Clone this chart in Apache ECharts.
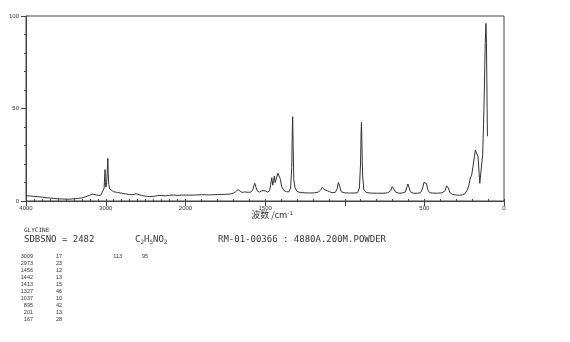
<!DOCTYPE html>
<html><head><meta charset="utf-8">
<script src="https://cdn.jsdelivr.net/npm/echarts@6/dist/echarts.min.js"></script>
<style>html,body{margin:0;padding:0;background:#fff}#c{width:570px;height:342px}</style>
</head><body><div id="c"></div>
<script>
// Spectrum (wavenumber cm-1, relative intensity)
const wavenumbers = [4000,3950,3900,3850,3800,3750,3700,3650,3600,3550,3500,3450,3400,3350,3300,3250,3200,3170,3150,3120,3090,3060,3035,3020,3014,3009,3005,2998,2990,2982,2976,2973,2969,2962,2950,2930,2900,2850,2800,2750,2700,2660,2620,2600,2550,2500,2450,2400,2350,2300,2250,2200,2150,2100,2050,2000,
1950,1900,1850,1800,1750,1720,1700,1685,1670,1660,1645,1630,1620,1605,1590,1578,1570,1565,1558,1548,1535,1520,1510,1500,1485,1472,1465,1458,1452,1447,1442,1437,1430,1420,1413,1405,1395,1380,1365,1350,1340,1333,1329,1327,1324,1320,1312,1300,1280,1250,1220,1190,1165,1150,1140,1130,1120,1110,1104,1095,1080,1060,1048,1040,1037,1032,1022,1000,970,940,920,908,901,897,895,892,888,880,865,840,800,760,730,712,702,696,690,680,660,640,620,610,603,597,588,570,545,525,512,503,495,487,478,468,450,420,390,370,360,355,349,340,325,300,280,260,245,230,220,212,203,195,180,170,163,152,145,134,126,118,113,110,106,104];
const intensities = [2.9,2.7,2.5,2.3,2.1,1.8,1.6,1.4,1.2,1.1,1.0,1.0,1.2,1.4,1.7,2.3,3.1,3.8,4.0,3.3,3.0,3.2,4.2,7,13,17,10,7.5,9,15,21,23,15,9,6.5,5.5,5.0,4.6,4.2,3.8,3.5,3.4,3.9,3.5,3.0,2.6,2.4,2.5,2.9,3.0,2.8,3.1,3.3,3.0,3.2,3.2,
3.2,3.4,3.3,3.5,3.6,3.8,4.2,5.0,6.2,5.2,4.6,4.9,5.3,4.7,4.8,6,8.5,9.6,7.5,5.3,4.8,5.6,6.3,5.5,4.8,5.5,9,12.6,8.5,11,13.5,10,11,15,16,12,7.5,5.5,5.0,5.0,7,18,40,45.6,30,12,7,5.2,4.6,4.4,4.3,4.4,4.8,6.2,7.4,6.2,5.2,5.6,6.0,5.0,4.5,4.6,6.5,10,10.5,8,5.0,4.4,4.3,4.3,4.5,7,20,38,42.5,30,14,6,4.6,4.3,4.2,4.2,4.4,5.5,7.8,8.6,7.2,4.8,4.2,4.3,4.8,7.5,9.2,7.5,5,4.2,4.2,4.4,6.5,10,10.5,9.5,6,4.5,4.3,4.2,4.4,5.5,8.2,8.6,7,4.6,3.6,3.2,3.1,3.3,4.0,6,8.5,12.4,14,18.5,27.5,28.5,24,9.6,10.5,25,49,85,96,85,50,35];

// Peak table
const peakWavenumbers = [3009,2973,1456,1442,1413,1327,1037,895,201,167,113];
const peakIntensities = [17,23,12,13,15,46,10,42,13,28,95];

// Axis tick labels
const yTicks = [0,50,100];
const xUpperLabels = [4000,3000];
const xLowerLabels = [2000,1500,500,0];

const upper = [], lower = [];
for (let i = 0; i < wavenumbers.length; i++) {
  if (wavenumbers[i] >= 2000) upper.push([wavenumbers[i], intensities[i]]);
  if (wavenumbers[i] <= 2000) lower.push([wavenumbers[i], intensities[i]]);
}

const TXT = '#333', AX = '#444';
const labFont = {fontSize: 6, color: TXT, fontFamily: 'Liberation Sans'};
function majorX(grid, min, max, interval, shown) {
  return {gridIndex: grid, type: 'value', min: min, max: max, inverse: true, interval: interval, position: 'bottom',
    axisLine: {show: true, onZero: false, lineStyle: {color: AX, width: 1}},
    axisTick: {show: true, length: 5, lineStyle: {color: AX}},
    splitLine: {show: false},
    axisLabel: Object.assign({margin: 4, formatter: v => shown.indexOf(v) >= 0 ? String(v) : ''}, labFont)};
}
function minorX(grid, min, max) {
  return {gridIndex: grid, type: 'value', min: min, max: max, inverse: true, interval: 100, position: 'bottom',
    axisLine: {show: false, onZero: false}, axisTick: {show: true, inside: true, length: 2, lineStyle: {color: AX}},
    splitLine: {show: false}, axisLabel: {show: false}};
}

const chart = echarts.init(document.getElementById('c'), null, {renderer: 'canvas'});
const tableTexts = [];
for (let i = 0; i < peakWavenumbers.length; i++) {
  const col = Math.floor(i / 10), row = i % 10;
  tableTexts.push({type: 'text', x: 33 + col * 89, y: 256 + row * 7.05,
    style: {text: String(peakWavenumbers[i]), fill: TXT, font: '5.5px "Liberation Sans"', align: 'right', verticalAlign: 'middle'}});
  tableTexts.push({type: 'text', x: 62 + col * 86, y: 256 + row * 7.05,
    style: {text: String(peakIntensities[i]), fill: TXT, font: '5.5px "Liberation Sans"', align: 'right', verticalAlign: 'middle'}});
}

chart.setOption({
  animation: false,
  grid: [
    {left: 26, top: 16, width: 159.5, height: 185, containLabel: false},
    {left: 185.5, top: 16, width: 318.5, height: 185, containLabel: false},
    {left: 26, top: 16, width: 478, height: 185, show: true, borderColor: AX, borderWidth: 1, backgroundColor: 'transparent'}
  ],
  xAxis: [
    majorX(0, 2000, 4000, 1000, xUpperLabels),
    minorX(0, 2000, 4000),
    majorX(1, 0, 2000, 500, xLowerLabels),
    minorX(1, 0, 2000),
    {gridIndex: 2, type: 'value', show: false, min: 0, max: 1}
  ],
  yAxis: [
    {gridIndex: 0, type: 'value', min: 0, max: 100, interval: 50,
      axisLine: {show: true, onZero: false, lineStyle: {color: AX}},
      axisTick: {show: true, length: 5, lineStyle: {color: AX}},
      minorTick: {show: true, splitNumber: 5, length: 2, lineStyle: {color: AX}},
      splitLine: {show: false},
      axisLabel: Object.assign({margin: 7, formatter: v => yTicks.indexOf(v) >= 0 ? String(v) : ''}, labFont)},
    {gridIndex: 1, type: 'value', min: 0, max: 100, show: false},
    {gridIndex: 2, type: 'value', min: 0, max: 1, show: false}
  ],
  series: [
    {type: 'line', xAxisIndex: 0, yAxisIndex: 0, data: upper, showSymbol: false, symbol: 'none',
      lineStyle: {color: '#333', width: 1}, silent: true},
    {type: 'line', xAxisIndex: 2, yAxisIndex: 1, data: lower, showSymbol: false, symbol: 'none',
      lineStyle: {color: '#333', width: 1}, silent: true}
  ],
  graphic: [
    {type: 'text', x: 272, y: 215, style: {text: '{a|波数 /cm}{s|-1}', align: 'center', verticalAlign: 'middle',
      rich: {a: {fontSize: 9, fill: TXT, fontFamily: '"Noto Sans CJK SC"'}, s: {fontSize: 6, fill: TXT, verticalAlign: 'top', padding: [0,0,4,0]}}}},
    {type: 'text', x: 24, y: 230, style: {text: 'GLYCINE', fill: TXT, font: '6px "DejaVu Sans Mono"', verticalAlign: 'middle'}},
    {type: 'text', x: 24, y: 240, style: {text: 'SDBSNO = 2482', fill: TXT, font: '9px "DejaVu Sans Mono"', verticalAlign: 'middle'}},
    {type: 'text', x: 135, y: 240, style: {text: 'C{s|2}H{s|5}NO{s|2}', fill: TXT, font: '9px "DejaVu Sans Mono"', verticalAlign: 'middle',
      rich: {s: {fontSize: 6, fill: TXT, fontFamily: 'DejaVu Sans Mono', padding: [4,0,0,0]}}}},
    {type: 'text', x: 218, y: 240, style: {text: 'RM-01-00366 : 4880A.200M.POWDER', fill: TXT, font: '9px "DejaVu Sans Mono"', verticalAlign: 'middle'}}
  ].concat(tableTexts)
});
</script></body></html>
